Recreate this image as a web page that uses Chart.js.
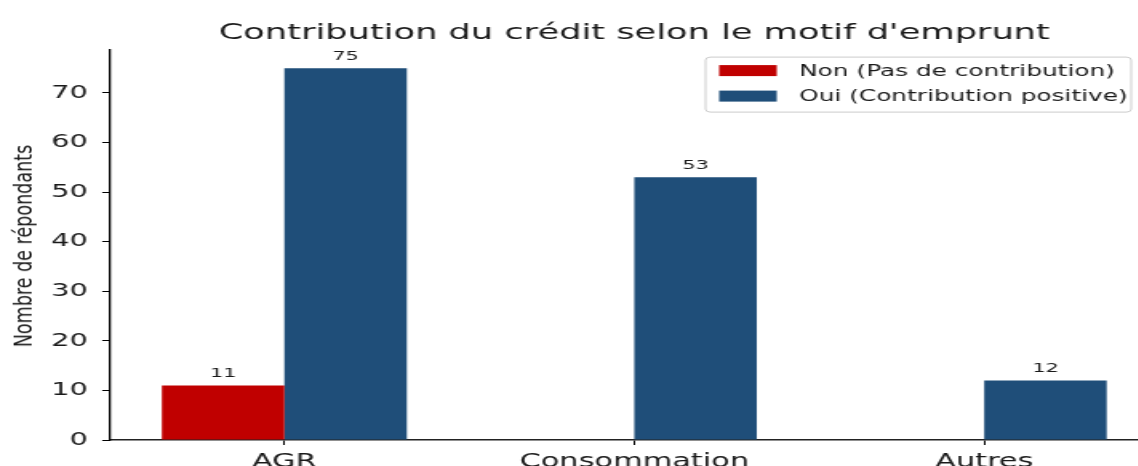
<!DOCTYPE html>
<html>
<head>
<meta charset="utf-8">
<script src="https://cdn.jsdelivr.net/npm/chart.js@4/dist/chart.umd.min.js"></script>
<style>
  html, body { margin: 0; padding: 0; background: #fff; }
  #wrap { position: absolute; left: 0; top: 0; width: 1138px; height: 466px; overflow: hidden; }
  /* the reference figure is stretched sideways, so the drawing is too */
  #fig { position: absolute; left: 0; top: 0; transform: scaleX(1.6); transform-origin: 0 0; }
  #ylabel {
    position: absolute; left: 23px; top: 246px;
    transform: translate(-50%, -50%) rotate(-90deg) scaleY(1.25);
    font-family: "Liberation Sans Narrow", "DejaVu Sans Condensed", sans-serif;
    font-size: 19.5px; color: #1a1a1a; white-space: nowrap;
  }
</style>
</head>
<body>
<div id="wrap">
  <div id="fig"><canvas id="chart" width="728" height="480"></canvas></div>
  <div id="ylabel">Nombre de répondants</div>
</div>
<script>
// Data
const categories = ["AGR", "Consommation", "Autres"];
const nonValues = [11, 0, 0];
const ouiValues = [75, 53, 12];
const seriesLabels = ["Non (Pas de contribution)", "Oui (Contribution positive)"];
const seriesColors = ["#c00000", "#1f4e79"];
const yTicks = [0, 10, 20, 30, 40, 50, 60, 70];

const FONT = "'DejaVu Sans', sans-serif";

// Value labels above bars (skip empty bars)
const valueLabels = {
  id: "valueLabels",
  afterDatasetsDraw(chart) {
    const ctx = chart.ctx;
    ctx.save();
    ctx.font = "13px " + FONT;
    ctx.fillStyle = "#1a1a1a";
    ctx.textAlign = "center";
    ctx.textBaseline = "bottom";
    chart.data.datasets.forEach((ds, i) => {
      chart.getDatasetMeta(i).data.forEach((bar, j) => {
        if (!ds.data[j]) return;
        ctx.fillText(ds.data[j], bar.x, bar.y - 5);
      });
    });
    ctx.restore();
  },
};

// Framed legend in the upper right of the plot
const boxLegend = {
  id: "boxLegend",
  afterDraw(chart) {
    const ctx = chart.ctx;
    const ca = chart.chartArea;
    const w = 266, h = 55;
    const left = ca.right - 17.5 - w;
    const top = ca.top + 7.5;
    ctx.save();
    ctx.fillStyle = "rgba(255,255,255,0.85)";
    ctx.strokeStyle = "#cccccc";
    ctx.lineWidth = 1;
    ctx.beginPath();
    ctx.roundRect(left, top, w, h, 3);
    ctx.fill();
    ctx.stroke();
    ctx.font = "15.5px " + FONT;
    ctx.textBaseline = "middle";
    ctx.textAlign = "left";
    chart.data.datasets.forEach((ds, i) => {
      const rowY = top + 13.5 + i * 25.5;
      ctx.fillStyle = ds.backgroundColor;
      ctx.fillRect(left + 8.5, rowY - 5.5, 36, 11);
      ctx.fillStyle = "#1a1a1a";
      ctx.fillText(ds.label, left + 58.5, rowY + 1);
    });
    ctx.restore();
  },
};

const ctx = document.getElementById("chart").getContext("2d");
const chart = new Chart(ctx, {
  type: "bar",
  data: {
    labels: categories,
    datasets: [
      { label: seriesLabels[0], data: nonValues, backgroundColor: seriesColors[0] },
      { label: seriesLabels[1], data: ouiValues, backgroundColor: seriesColors[1] },
    ],
  },
  options: {
    responsive: false,
    animation: false,
    devicePixelRatio: 1,
    layout: { padding: { left: 18.4, right: 3.5, top: 0, bottom: 0 } },
    datasets: { bar: { categoryPercentage: 0.7, barPercentage: 1.0 } },
    plugins: {
      legend: { display: false },
      tooltip: { enabled: false },
      title: {
        display: true,
        fullSize: false,
        text: "Contribution du crédit selon le motif d'emprunt",
        color: "#1a1a1a",
        font: { family: FONT, size: 22, weight: "normal" },
        padding: { top: 20, bottom: 3.2 },
      },
    },
    scales: {
      x: {
        offset: true,
        grid: { offset: false, drawOnChartArea: false, drawTicks: true, tickLength: 5, color: "#000", tickColor: "#000" },
        border: { color: "#222", width: 1.5 },
        ticks: { color: "#1a1a1a", padding: 6, font: { family: FONT, size: 19 } },
        afterFit: (s) => { s.height = 40; },
      },
      y: {
        min: 0,
        max: 78.75,
        grid: { drawOnChartArea: false, drawTicks: true, tickLength: 4.5, color: "#000", tickColor: "#000" },
        border: { color: "#000", width: 1.3 },
        ticks: { stepSize: 10, color: "#1a1a1a", padding: 9, font: { family: FONT, size: 18 } },
        afterBuildTicks: (s) => { s.ticks = yTicks.map((v) => ({ value: v })); },
        afterFit: (s) => { s.width = 50; },
      },
    },
  },
  plugins: [valueLabels, boxLegend],
});
</script>
</body>
</html>
